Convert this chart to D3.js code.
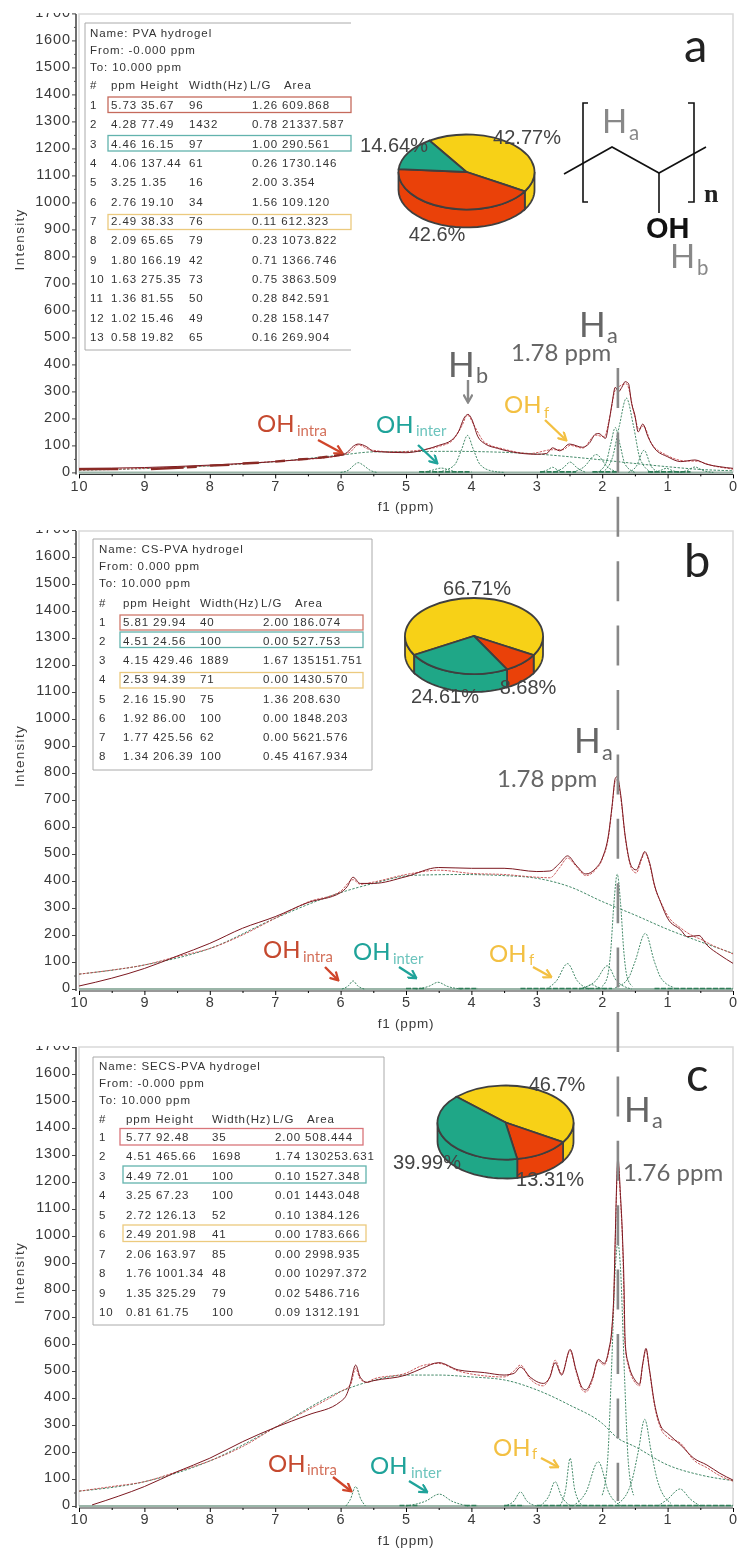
<!DOCTYPE html>
<html>
<head>
<meta charset="utf-8">
<script src="https://cdn.jsdelivr.net/npm/d3@7"></script>
<style>
  html, body { margin: 0; background: #fff; }
  svg { display: block; filter: blur(0.45px); }
  .tick-label { font-family: "Liberation Sans"; font-size: 14.5px; letter-spacing: 0.9px; fill: #3a3a3a; }
  .table-text { font-family: "Liberation Sans"; font-size: 11.5px; letter-spacing: 0.9px; fill: #333; }
  .note { font-family: Lato; }
</style>
</head>
<body>
<svg id="chart" width="737" height="1551"></svg>
<script>
const ppmTicks = [10, 9, 8, 7, 6, 5, 4, 3, 2, 1, 0];
const ppmMinor = [9.5, 8.5, 7.5, 6.5, 5.5, 4.5, 3.5, 2.5, 1.5, 0.5];
const intensityTicks = [0, 100, 200, 300, 400, 500, 600, 700, 800, 900, 1000, 1100, 1200, 1300, 1400, 1500, 1600, 1700];
const intensityMinor = [50, 150, 250, 350, 450, 550, 650, 750, 850, 950, 1050, 1150, 1250, 1350, 1450, 1550, 1650];

// ── Panel a ──────────────────────────────────
const specA = [[10,15],[9,18],[8.5,22],[8,27],[7.5,33],[7,40],[6.5,50],[6,64],[5.9,74],[5.8,98],[5.73,105],[5.6,95],[5.5,78],[5,73],[4.7,85],[4.5,100],[4.3,120],[4.2,150],[4.1,206],[4.05,215],[4,200],[3.9,132],[3.8,107],[3.6,89],[3.4,77],[3,67],[2.85,70],[2.76,91],[2.65,80],[2.5,105],[2.3,93],[2.2,107],[2.1,142],[2.05,144],[1.95,126],[1.9,181],[1.85,255],[1.8,315],[1.75,299],[1.7,315],[1.65,336],[1.6,330],[1.55,255],[1.5,212],[1.45,150],[1.38,179],[1.3,132],[1.2,89],[1,58],[0.8,40],[0.58,46],[0.4,30],[0.2,21],[0,15]];
const fitA = [[10,9],[9,15],[8,25],[7,41],[6,62],[5.85,76],[5.73,102],[5.55,84],[5.2,76],[4.8,82],[4.5,96],[4.3,116],[4.15,170],[4.06,212],[3.95,170],[3.8,112],[3.5,86],[3.1,70],[2.76,84],[2.6,84],[2.49,100],[2.3,90],[2.1,138],[1.97,132],[1.88,210],[1.8,305],[1.63,328],[1.5,205],[1.44,160],[1.37,172],[1.25,108],[1,62],[0.7,42],[0.58,42],[0.3,24],[0,12]];
const broadA = [[10,8],[9,14],[8,24],[7,40],[6,64],[5.5,76],[5,77],[4.28,78],[3.9,77],[3,68],[2.5,58],[2,46],[1.5,33],[1,21],[0.5,11],[0,6]];
const peaksA = [
  [[6,0],[5.88,8],[5.8,26],[5.73,36],[5.65,26],[5.55,8],[5.45,0]],
  [[4.75,0],[4.6,8],[4.46,16],[4.33,8],[4.2,0]],
  [[4.55,0],[4.4,8],[4.25,30],[4.15,85],[4.06,137],[3.97,85],[3.87,30],[3.7,6],[3.5,0]],
  [[2.95,0],[2.83,10],[2.76,19],[2.69,10],[2.58,0]],
  [[2.75,0],[2.6,16],[2.49,38],[2.38,16],[2.25,0]],
  [[2.45,0],[2.28,20],[2.09,66],[1.92,20],[1.75,0]],
  [[2.08,0],[1.95,30],[1.87,105],[1.8,166],[1.73,105],[1.65,30],[1.5,0]],
  [[2,0],[1.85,50],[1.74,170],[1.63,275],[1.52,170],[1.42,50],[1.25,0]],
  [[1.6,0],[1.48,22],[1.36,82],[1.25,22],[1.12,0]],
  [[1.25,0],[1.12,6],[1.02,15],[0.92,6],[0.78,0]],
  [[0.85,0],[0.7,7],[0.58,20],[0.46,7],[0.3,0]]
];
const noiseA = [[4.8,4.0],[2.95,2.4],[2.15,1.75],[1.3,0.65]];
// heavy dark stretches of the trace at the left of panel a
const heavyA = [[[10,12],[9.4,12]],[[8.9,12],[8.4,18]],[[8.35,19],[8.2,21]],[[8,25],[7.7,28]],[[7.5,33],[7.25,36]],[[7,40],[6.85,43]],[[6.65,48],[6.5,50]],[[6.35,54],[6.2,58]],[[6.1,61],[5.95,68]]];
const tablePpmA = ['5.73','4.28','4.46','4.06','3.25','2.76','2.49','2.09','1.80','1.63','1.36','1.02','0.58'];
const tableHeightA = ['35.67','77.49','16.15','137.44','1.35','19.10','38.33','65.65','166.19','275.35','81.55','15.46','19.82'];
const tableWidthA = ['96','1432','97','61','16','34','76','79','42','73','50','49','65'];
const tableLgA = ['1.26','0.78','1.00','0.26','2.00','1.56','0.11','0.23','0.71','0.75','0.28','0.28','0.16'];
const tableAreaA = ['609.868','21337.587','290.561','1730.146','3.354','109.120','612.323','1073.822','1366.746','3863.509','842.591','158.147','269.904'];
const pieA = [42.77, 42.6, 14.64];

// ── Panel b ──────────────────────────────────
const specB = [[10,11],[9.5,40],[9,76],[8.5,122],[8,169],[7.5,225],[7,268],[6.5,320],[6,357],[5.9,379],[5.81,414],[5.7,391],[5.5,391],[5,416],[4.5,450],[4,447],[3.5,447],[3,435],[2.8,437],[2.65,466],[2.53,493],[2.4,459],[2.25,426],[2.1,447],[2,484],[1.9,577],[1.85,676],[1.8,780],[1.77,787],[1.72,725],[1.65,570],[1.55,453],[1.48,441],[1.4,484],[1.35,509],[1.28,472],[1.2,385],[1.1,317],[1,262],[0.8,219],[0.7,194],[0.52,198],[0.4,163],[0.2,126],[0,95]];
const fitB = [[10,55],[9.5,70],[9,89],[8.5,120],[8,150],[7.5,200],[7,262],[6.5,322],[6,362],[5.81,405],[5.7,388],[5.5,396],[5,424],[4.5,440],[4,428],[3.5,424],[3,414],[2.8,412],[2.65,450],[2.53,485],[2.4,455],[2.25,420],[2.1,442],[2,480],[1.9,570],[1.85,670],[1.8,770],[1.77,775],[1.72,715],[1.65,565],[1.55,445],[1.48,430],[1.4,478],[1.35,505],[1.28,466],[1.2,380],[1.1,320],[1,272],[0.8,226],[0.6,195],[0.5,185],[0.3,160],[0.1,140],[0,130]];
const broadB = [[10,55],[9,89],[8,150],[7,262],[6,357],[5.5,391],[4.9,421],[4.15,424],[3.5,420],[3,410],[2.5,379],[2,324],[1.5,274],[1,221],[0.5,175],[0,132]];
const peaksB = [
  [[5.98,0],[5.88,12],[5.81,30],[5.74,12],[5.64,0]],
  [[4.85,0],[4.65,10],[4.51,25],[4.37,10],[4.15,0]],
  [[2.85,0],[2.7,30],[2.53,94],[2.38,30],[2.2,0]],
  [[2.35,0],[2.25,7],[2.16,16],[2.07,7],[1.95,0]],
  [[2.3,3],[2.1,30],[1.92,86],[1.78,30],[1.55,0]],
  [[2,10],[1.92,45],[1.87,140],[1.82,320],[1.77,425],[1.72,320],[1.67,140],[1.62,45],[1.54,10]],
  [[1.8,5],[1.6,40],[1.5,100],[1.34,206],[1.2,100],[1.1,40],[0.9,5]]
];
const noiseB = [[5,4.7],[4.2,3.9],[3.25,2.2],[2.2,1.85],[1.2,0]];
const tablePpmB = ['5.81','4.51','4.15','2.53','2.16','1.92','1.77','1.34'];
const tableHeightB = ['29.94','24.56','429.46','94.39','15.90','86.00','425.56','206.39'];
const tableWidthB = ['40','100','1889','71','75','100','62','100'];
const tableLgB = ['2.00','0.00','1.67','0.00','1.36','0.00','0.00','0.45'];
const tableAreaB = ['186.074','527.753','135151.751','1430.570','208.630','1848.203','5621.576','4167.934'];
const pieB = [66.71, 8.68, 24.61];

// ── Panel c ──────────────────────────────────
const specC = [[9.8,4],[9.4,36],[9,72],[8.5,127],[8,177],[7.5,238],[7,291],[6.5,337],[6,387],[5.9,417],[5.85,454],[5.77,522],[5.7,477],[5.6,458],[5.5,464],[5,485],[4.75,510],[4.5,531],[4.2,504],[3.8,494],[3.5,485],[3.35,491],[3.25,514],[3.1,477],[2.9,454],[2.8,477],[2.72,531],[2.62,485],[2.49,580],[2.4,504],[2.3,436],[2.25,430],[2.15,473],[2.06,543],[1.97,528],[1.9,578],[1.85,664],[1.82,800],[1.8,1000],[1.76,1290],[1.72,1150],[1.69,1000],[1.665,800],[1.655,660],[1.64,580],[1.6,528],[1.5,467],[1.43,451],[1.38,528],[1.33,584],[1.28,510],[1.2,380],[1.1,294],[1,269],[0.8,226],[0.6,177],[0.4,152],[0.2,121],[0,96]];
const fitC = [[10,55],[9.5,72],[9,90],[8.5,127],[8,167],[7.5,220],[7,291],[6.5,356],[6,424],[5.85,448],[5.77,510],[5.7,470],[5.6,458],[5.5,470],[5,492],[4.75,520],[4.5,528],[4.2,500],[3.8,482],[3.5,478],[3.35,500],[3.25,522],[3.1,470],[2.9,445],[2.8,480],[2.72,540],[2.62,490],[2.49,575],[2.4,498],[2.3,428],[2.25,422],[2.15,465],[2.06,538],[1.97,522],[1.9,570],[1.85,655],[1.82,790],[1.8,980],[1.76,1270],[1.72,1130],[1.69,980],[1.67,790],[1.66,650],[1.64,570],[1.6,520],[1.5,458],[1.43,445],[1.38,522],[1.33,578],[1.28,505],[1.2,372],[1.1,285],[1,255],[0.8,232],[0.6,170],[0.4,142],[0.2,112],[0,92]];
const broadC = [[10,55],[9,90],[8,167],[7,291],[6,424],[5.5,465],[5,485],[4.51,485],[4,478],[3.5,467],[3,430],[2.5,374],[2,306],[1.76,251],[1.5,220],[1,152],[0.5,115],[0,94]];
const peaksC = [
  [[5.92,0],[5.85,25],[5.77,72],[5.69,25],[5.62,0]],
  [[5,0],[4.7,18],[4.49,44],[4.3,18],[4.05,0]],
  [[3.5,0],[3.35,18],[3.25,52],[3.15,18],[3,0]],
  [[2.95,0],[2.82,35],[2.72,90],[2.62,35],[2.48,0]],
  [[2.65,0],[2.56,60],[2.49,177],[2.42,60],[2.3,0]],
  [[2.45,0],[2.25,50],[2.06,164],[1.9,50],[1.7,0]],
  [[2,40],[1.92,160],[1.86,490],[1.8,880],[1.76,974],[1.72,880],[1.66,490],[1.6,160],[1.52,40]],
  [[1.75,10],[1.55,90],[1.45,200],[1.35,321],[1.25,200],[1.15,90],[0.95,10]],
  [[1.15,0],[1,25],[0.81,63],[0.65,25],[0.5,0]]
];
const noiseC = [[5.1,4.8],[4.1,3.9],[3.5,3.2],[3,1.5],[1.5,0]];
const tablePpmC = ['5.77','4.51','4.49','3.25','2.72','2.49','2.06','1.76','1.35','0.81'];
const tableHeightC = ['92.48','465.66','72.01','67.23','126.13','201.98','163.97','1001.34','325.29','61.75'];
const tableWidthC = ['35','1698','100','100','52','41','85','48','79','100'];
const tableLgC = ['2.00','1.74','0.10','0.01','0.10','0.00','0.00','0.00','0.02','0.09'];
const tableAreaC = ['508.444','130253.631','1527.348','1443.048','1384.126','1783.666','2998.935','10297.372','5486.716','1312.191'];
const pieC = [46.7, 13.31, 39.99];

const PIE_COLORS = ['#f7d117', '#ea4109', '#1fa787'];
const RED = '#c5492f', TEAL = '#1fa39a', YELLOW = '#f3c042', GREY = '#666';
const SPEC = '#7c1820', FIT = '#c4474a', GREEN = '#2f7d58';

const svg = d3.select('#chart');
svg.append('rect').attr('width', 737).attr('height', 1551).attr('fill', '#fff');
const x = d3.scaleLinear().domain([10, 0]).range([79, 733]);
const specLine = y => d3.line().x(d => x(d[0])).y(d => y(d[1])).curve(d3.curveMonotoneX);

function spectrumPanel(id, top, y0, spec, fit, broad, peaks, noise, heavy) {
  const y = d3.scaleLinear().domain([0, 1700]).range([y0, y0 - 459]);
  const g = svg.append('g').attr('class', 'panel');
  const clip = 'clip-' + id;
  g.append('clipPath').attr('id', clip).append('rect')
    .attr('x', 0).attr('y', top - 1).attr('width', 737).attr('height', y0 - top + 50);

  const inner = g.append('g').attr('clip-path', `url(#${clip})`);

  // Frame
  inner.append('path')
    .attr('d', `M${x(10)},${y0}V${top}H${x(0)}V${y0}`)
    .attr('fill', 'none').attr('stroke', '#d9d9d9').attr('stroke-width', 1.5);

  // Axes
  const left = inner.append('g').attr('transform', 'translate(76,0)');
  left.call(d3.axisLeft(y).tickValues(intensityTicks).tickSize(4).tickPadding(1).tickFormat(d3.format('d')));
  left.selectAll('text').attr('class', 'tick-label').attr('dy', '0.2em').attr('font-size', null).attr('font-family', null);
  left.select('.domain').attr('d', `M0,${y0 + 2}V${top}`).attr('stroke', '#222').attr('stroke-width', 1.3);
  left.selectAll('.tick line').attr('stroke', '#444');
  inner.append('g').attr('transform', 'translate(76,0)')
    .call(d3.axisLeft(y).tickValues(intensityMinor).tickSize(2).tickFormat(''))
    .call(s => s.select('.domain').remove())
    .selectAll('line').attr('stroke', '#555');

  const bottom = g.append('g').attr('transform', `translate(0,${y0 + 2})`);
  bottom.call(d3.axisBottom(x).tickValues(ppmTicks).tickSize(4).tickPadding(2).tickFormat(d3.format('d')));
  bottom.selectAll('text').attr('class', 'tick-label').attr('font-size', null).attr('font-family', null);
  bottom.select('.domain').attr('d', `M${x(10)},0H${x(0)}`).attr('stroke', '#333').attr('stroke-width', 1.2);
  g.append('g').attr('transform', `translate(0,${y0 + 2})`)
    .call(d3.axisBottom(x).tickValues(ppmMinor).tickSize(2).tickFormat(''))
    .call(s => s.select('.domain').remove());

  g.append('text').attr('class', 'tick-label')
    .attr('transform', `translate(24,${y0 - 233}) rotate(-90)`)
    .attr('text-anchor', 'middle').style('font-size', '13.5px').style('letter-spacing', '1.3px')
    .text('Intensity');
  g.append('text').attr('class', 'tick-label')
    .attr('x', x(5)).attr('y', y0 + 39).attr('text-anchor', 'middle')
    .style('font-size', '13.5px').style('letter-spacing', '0.8px')
    .text('f1 (ppm)');

  // Zero line under the fit
  g.append('line').attr('x1', x(10)).attr('x2', x(0)).attr('y1', y0).attr('y2', y0)
    .attr('stroke', '#9ab5a8').attr('stroke-width', 2);

  // Residual noise along the baseline
  g.selectAll('.noise').data(noise).join('line')
    .attr('class', 'noise')
    .attr('x1', d => x(d[0])).attr('x2', d => x(d[1]))
    .attr('y1', y0 - 0.5).attr('y2', y0 - 0.5)
    .attr('stroke', GREEN).attr('stroke-width', 1.6).attr('stroke-dasharray', '5,1.5');

  const line = specLine(y);
  g.selectAll('.peak').data(peaks).join('path')
    .attr('class', 'peak')
    .attr('d', line).attr('fill', 'none')
    .attr('stroke', GREEN).attr('stroke-width', 0.9).attr('stroke-dasharray', '2,1.3');
  g.append('path').datum(broad).attr('d', line).attr('fill', 'none')
    .attr('stroke', GREEN).attr('stroke-width', 0.9).attr('stroke-dasharray', '2.5,1.5');
  g.append('path').datum(fit).attr('d', line).attr('fill', 'none')
    .attr('stroke', FIT).attr('stroke-width', 0.9).attr('stroke-dasharray', '2.5,1.2');
  g.append('path').datum(spec).attr('d', line).attr('fill', 'none')
    .attr('stroke', SPEC).attr('stroke-width', 1);
  g.selectAll('.heavy').data(heavy).join('path')
    .attr('class', 'heavy')
    .attr('d', line).attr('fill', 'none')
    .attr('stroke', '#8a2a25').attr('stroke-width', 2.4);
}

function peakTable(o, name, from, to, ppm, height, width, lg, area) {
  const g = svg.append('g');
  // Frame is open on the right side of table a, like the source picture
  g.append('rect').attr('x', o.left).attr('y', o.top).attr('width', o.right - o.left).attr('height', o.bottom - o.top)
    .attr('fill', '#fff').attr('stroke', 'none');
  g.append('path')
    .attr('d', `M${o.right},${o.top}H${o.left}V${o.bottom}H${o.right}` + (o.closed ? 'Z' : ''))
    .attr('fill', 'none').attr('stroke', '#aaa').attr('stroke-width', 1);

  const put = (tx, ty, s) => g.append('text').attr('class', 'table-text').attr('x', tx).attr('y', ty).text(s);
  put(o.numX, o.nameY, name);
  put(o.numX, o.nameY + 16.5, from);
  put(o.numX, o.nameY + 33.5, to);
  put(o.numX, o.headY, '#');
  put(o.ppmX, o.headY, 'ppm Height');
  put(o.widthX, o.headY, 'Width(Hz)');
  put(o.lgX - 2, o.headY, 'L/G');
  put(o.lgX + 32, o.headY, 'Area');

  const rowY = d3.scaleLinear().domain([0, ppm.length - 1]).range([o.row0, o.rowN]);
  const rows = g.selectAll('.row').data(ppm).join('g').attr('class', 'row')
    .attr('transform', (_, i) => `translate(0,${rowY(i)})`);
  rows.append('text').attr('class', 'table-text').attr('x', o.numX).text((_, i) => i + 1);
  rows.append('text').attr('class', 'table-text').attr('x', o.ppmX).text((d, i) => `${d} ${height[i]}`);
  rows.append('text').attr('class', 'table-text').attr('x', o.widthX).text((_, i) => width[i]);
  rows.append('text').attr('class', 'table-text').attr('x', o.lgX).text((_, i) => `${lg[i]} ${area[i]}`);

  g.selectAll('.hl').data(o.boxes).join('rect')
    .attr('class', 'hl')
    .attr('x', d => d.x0).attr('width', d => d.x1 - d.x0)
    .attr('y', d => d.y).attr('height', d => d.h)
    .attr('fill', 'none').attr('stroke', d => d.c).attr('stroke-width', 1.3);
}

function pie3d(cx, cy, rx, ry, depth, startDeg, values) {
  const arcs = d3.pie().sort(null).value(d => d)
    .startAngle(startDeg * Math.PI / 180)
    .endAngle((startDeg + 360) * Math.PI / 180)(values);
  const g = svg.append('g');
  const wall = [];
  arcs.forEach(a => {
    // front half of the disc only: pi/2 to 3pi/2 in d3's clock angles
    [0, 2 * Math.PI].forEach(shift => {
      const a0 = Math.max(a.startAngle + shift, Math.PI / 2);
      const a1 = Math.min(a.endAngle + shift, 1.5 * Math.PI);
      if (a1 > a0) wall.push({ a0, a1, i: a.index });
    });
  });
  g.selectAll('.wall').data(wall).join('path')
    .attr('class', 'wall')
    .attr('d', w => {
      const th = d3.range(0, 25).map(k => w.a0 + (w.a1 - w.a0) * k / 24);
      const pts = th.map(t => [cx + rx * Math.sin(t), cy - ry * Math.cos(t)])
        .concat(th.slice().reverse().map(t => [cx + rx * Math.sin(t), cy - ry * Math.cos(t) + depth]));
      return d3.line()(pts) + 'Z';
    })
    .attr('fill', w => PIE_COLORS[w.i])
    .attr('stroke', '#3f3f3f').attr('stroke-width', 1.8);
  const arc = d3.arc().innerRadius(0).outerRadius(rx);
  g.append('g').attr('transform', `translate(${cx},${cy}) scale(1,${ry / rx})`)
    .selectAll('path').data(arcs).join('path')
    .attr('d', arc).attr('fill', (_, i) => PIE_COLORS[i])
    .attr('stroke', '#3f3f3f').attr('stroke-width', 1.8).attr('vector-effect', 'non-scaling-stroke');
}

function pieLabel(cx, cy, s) {
  svg.append('text').attr('x', cx).attr('y', cy + 6).attr('text-anchor', 'middle')
    .attr('font-family', 'Liberation Sans').attr('font-size', 20).attr('fill', '#444').text(s);
}

function subLabel(tx, ty, main, sub, size, fill, subFill, subDx, subDy) {
  const t = svg.append('text').attr('class', 'note').attr('x', tx).attr('y', ty).attr('fill', fill).attr('font-size', size).text(main);
  svg.append('text').attr('class', 'note').attr('x', tx + subDx).attr('y', ty + subDy)
    .attr('fill', subFill).attr('font-size', size * 0.62).text(sub);
  return t;
}

const defs = svg.append('defs');
[['red', '#d0452a'], ['teal', TEAL], ['yellow', YELLOW], ['grey', '#888']].forEach(([n, c]) => {
  defs.append('marker').attr('id', 'arrow-' + n).attr('viewBox', '0 0 10 10')
    .attr('refX', 8.5).attr('refY', 5).attr('markerWidth', 4.2).attr('markerHeight', 4.2)
    .attr('orient', 'auto')
    .append('path').attr('d', 'M1,0.5L9,5L1,9.5').attr('fill', 'none').attr('stroke', c).attr('stroke-width', 2.2);
});
function arrow(x1, y1, x2, y2, n, c) {
  svg.append('line').attr('x1', x1).attr('y1', y1).attr('x2', x2).attr('y2', y2)
    .attr('stroke', c).attr('stroke-width', 2.4).attr('marker-end', `url(#arrow-${n})`);
}

spectrumPanel('a', 14, 472.4, specA, fitA, broadA, peaksA, noiseA, heavyA);
spectrumPanel('b', 531, 989, specB, fitB, broadB, peaksB, noiseB, []);
spectrumPanel('c', 1047, 1506, specC, fitC, broadC, peaksC, noiseC, []);

// Ha guide across the three panels
svg.append('line').attr('x1', x(1.76)).attr('x2', x(1.76)).attr('y1', 368).attr('y2', 1501)
  .attr('stroke', '#888').attr('stroke-width', 2.6).attr('stroke-dasharray', '40,24.4');

peakTable({ left: 85, right: 351, top: 23, bottom: 350, numX: 90, ppmX: 111, widthX: 189, lgX: 252,
  nameY: 37, headY: 89, row0: 109, rowN: 341,
  boxes: [{ x0: 108, x1: 351, y: 97, h: 15.5, c: '#c56a5c' }, { x0: 108, x1: 351, y: 135.5, h: 15.5, c: '#62b3ad' }, { x0: 108, x1: 351, y: 214.5, h: 15, c: '#ecca7e' }] },
  'Name: PVA hydrogel', 'From: -0.000 ppm', 'To: 10.000 ppm',
  tablePpmA, tableHeightA, tableWidthA, tableLgA, tableAreaA);

peakTable({ left: 93, right: 372, top: 539, bottom: 770, closed: true, numX: 99, ppmX: 123, widthX: 200, lgX: 263,
  nameY: 553, headY: 607, row0: 626, rowN: 760,
  boxes: [{ x0: 120, x1: 363, y: 615, h: 15, c: '#d0796c' }, { x0: 120, x1: 363, y: 632, h: 15.5, c: '#62b3ad' }, { x0: 120, x1: 363, y: 672.5, h: 15.5, c: '#ecca7e' }] },
  'Name: CS-PVA hydrogel', 'From: 0.000 ppm', 'To: 10.000 ppm',
  tablePpmB, tableHeightB, tableWidthB, tableLgB, tableAreaB);

peakTable({ left: 93, right: 384, top: 1057, bottom: 1325, closed: true, numX: 99, ppmX: 126, widthX: 212, lgX: 275,
  nameY: 1070, headY: 1123, row0: 1141, rowN: 1316,
  boxes: [{ x0: 120, x1: 363, y: 1128.5, h: 16.5, c: '#d9757a' }, { x0: 123, x1: 366, y: 1166, h: 17, c: '#62b3ad' }, { x0: 123, x1: 366, y: 1225, h: 16.5, c: '#ecca7e' }] },
  'Name: SECS-PVA hydrogel', 'From: -0.000 ppm', 'To: 10.000 ppm',
  tablePpmC, tableHeightC, tableWidthC, tableLgC, tableAreaC);

pie3d(466.5, 172, 68, 37.5, 18, -33, pieA);
pie3d(474, 636, 69, 38, 18, -120, pieB);
pie3d(505.5, 1122.5, 68, 37, 19, -46, pieC);
pieLabel(527, 138, '42.77%'); pieLabel(394, 146, '14.64%'); pieLabel(437, 235, '42.6%');
pieLabel(477, 589, '66.71%'); pieLabel(445, 697, '24.61%'); pieLabel(528, 688, '8.68%');
pieLabel(557, 1085, '46.7%'); pieLabel(427, 1163, '39.99%'); pieLabel(550, 1180, '13.31%');

// Panel letters
[['a', 684, 62], ['b', 684, 577], ['c', 686, 1091]].forEach(([s, tx, ty]) => {
  svg.append('text').attr('class', 'note').attr('x', tx).attr('y', ty).attr('font-size', 47).attr('fill', '#222').text(s);
});

// Repeat unit in panel a
const bond = (d, w) => svg.append('path').attr('d', d).attr('fill', 'none').attr('stroke', '#111').attr('stroke-width', w);
bond('M564,174L612,147L659,173L706,147', 1.6);
bond('M659,173V213', 1.6);
bond('M588,103H583V202H588', 1.6);
bond('M688,103H694V202H688', 1.6);
svg.append('text').attr('x', 646).attr('y', 238).attr('font-family', 'Liberation Sans').attr('font-weight', 'bold')
  .attr('font-size', 29).attr('fill', '#111').text('OH');
svg.append('text').attr('x', 704).attr('y', 202).attr('font-family', 'Liberation Serif').attr('font-weight', 'bold')
  .attr('font-size', 26).attr('fill', '#222').text('n');
subLabel(602, 133, 'H', 'a', 33, '#888', '#888', 27, 7);
subLabel(670, 268, 'H', 'b', 33, '#888', '#888', 27, 7);

// Assignments, panel a
subLabel(579, 337, 'H', 'a', 35, GREY, GREY, 28, 6);
svg.append('text').attr('class', 'note').attr('x', 511).attr('y', 361).attr('font-size', 24).attr('fill', GREY).text('1.78 ppm');
subLabel(448, 377, 'H', 'b', 35, GREY, GREY, 28, 6);
arrow(468, 380, 468, 402, 'grey', '#888');
subLabel(257, 432, 'OH', 'intra', 24, RED, '#d4705a', 40, 4);
arrow(318, 440, 342, 453, 'red', '#d0452a');
subLabel(376, 433, 'OH', 'inter', 24, TEAL, '#6cc4bd', 40, 3);
arrow(418, 445, 437, 463, 'teal', TEAL);
subLabel(504, 413, 'OH', 'f', 24, YELLOW, YELLOW, 40, 5);
arrow(545, 420, 566, 440, 'yellow', YELLOW);

// Assignments, panel b
subLabel(574, 753, 'H', 'a', 35, GREY, GREY, 28, 7);
svg.append('text').attr('class', 'note').attr('x', 497).attr('y', 787).attr('font-size', 24).attr('fill', GREY).text('1.78 ppm');
subLabel(263, 958, 'OH', 'intra', 24, RED, '#d4705a', 40, 4);
arrow(325, 967, 338, 980, 'red', '#d0452a');
subLabel(353, 960, 'OH', 'inter', 24, TEAL, '#6cc4bd', 40, 4);
arrow(399, 967, 416, 978, 'teal', TEAL);
subLabel(489, 962, 'OH', 'f', 24, YELLOW, YELLOW, 40, 3);
arrow(533, 967, 551, 977, 'yellow', YELLOW);

// Assignments, panel c
subLabel(624, 1122, 'H', 'a', 35, GREY, GREY, 28, 6);
svg.append('text').attr('class', 'note').attr('x', 623).attr('y', 1181).attr('font-size', 24).attr('fill', GREY).text('1.76 ppm');
subLabel(268, 1472, 'OH', 'intra', 24, RED, '#d4705a', 39, 3);
arrow(333, 1477, 351, 1491, 'red', '#d0452a');
subLabel(370, 1474, 'OH', 'inter', 24, TEAL, '#6cc4bd', 41, 4);
arrow(409, 1481, 427, 1492, 'teal', TEAL);
subLabel(493, 1456, 'OH', 'f', 24, YELLOW, YELLOW, 39, 3);
arrow(541, 1458, 558, 1467, 'yellow', YELLOW);
</script>
</body>
</html>
